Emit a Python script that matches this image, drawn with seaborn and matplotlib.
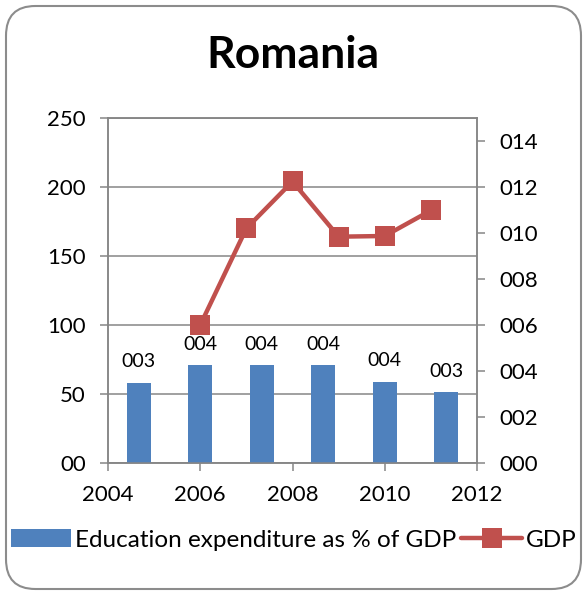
import numpy as np
import matplotlib
matplotlib.use("Agg")
import matplotlib.pyplot as plt
import seaborn as sns
from matplotlib.patches import FancyBboxPatch
from matplotlib.ticker import FormatStrFormatter

# bar series (right axis), placed where the chart software put them
bar_pos = [2004.667, 2006.0, 2007.333, 2008.667, 2010.0, 2011.333]
edu_pct = [3.49, 4.24, 4.24, 4.24, 3.53, 3.08]

# line series (left axis)
gdp_years = [2006, 2007, 2008, 2009, 2010, 2011]
gdp_vals = [100, 170, 204, 164, 164.5, 183]

x_ticks = [2004, 2006, 2008, 2010, 2012]
left_ticks = [0, 50, 100, 150, 200, 250]
right_ticks = [0, 2, 4, 6, 8, 10, 12, 14]

BLUE = "#4F81BD"
RED = "#C0504D"
GRID = "#868686"

sns.set_style("white")
plt.rcParams["font.family"] = ["Lato", "DejaVu Sans"]
plt.rcParams["text.color"] = "black"
plt.rcParams["xtick.labelcolor"] = "black"
plt.rcParams["ytick.labelcolor"] = "black"

fig = plt.figure(figsize=(5.87, 5.95), dpi=100)
ax = fig.add_axes([108 / 587, 1 - 463 / 595, (477 - 108) / 587, (463 - 118) / 595])

# outer rounded frame
frame = FancyBboxPatch((6 / 587, 6 / 595), 575 / 587, 583 / 595,
                       boxstyle="round,pad=0,rounding_size=0.05",
                       transform=fig.transFigure, facecolor="none",
                       edgecolor="#8c8c8c", linewidth=1.5, zorder=0)
fig.patches.append(frame)

ax.set_ylim(0, 250)
ax.set_xlim(2004, 2012)
ax.set_yticks(left_ticks)
ax.set_xticks(x_ticks)
ax.yaxis.set_major_formatter(FormatStrFormatter("%02d"))
ax.grid(axis="y", color=GRID, linewidth=1.1)
ax.grid(axis="x", visible=False)
ax.set_axisbelow(True)

sns.lineplot(x=gdp_years, y=gdp_vals, ax=ax, color=RED, marker="s",
             markersize=14, markeredgewidth=0, linewidth=3.2, label="GDP",
             legend=False)

ax2 = ax.twinx()
sns.barplot(x=bar_pos, y=edu_pct, ax=ax2, native_scale=True, color=BLUE,
            width=0.39, linewidth=0, saturation=1,
            label="Education expenditure as % of GDP")
if ax2.get_legend() is not None:
    ax2.get_legend().remove()
ax2.set_ylim(0, 15)
ax2.set_xlim(2004, 2012)
ax2.set_yticks(right_ticks)
ax2.yaxis.set_major_formatter(FormatStrFormatter("%03d"))
ax2.grid(False)
ax2.bar_label(ax2.containers[0], labels=[f"{v:03.0f}" for v in edu_pct],
              padding=9, fontsize=14, color="black")

for a in (ax, ax2):
    a.set_xlabel("")
    a.set_ylabel("")
    for s in a.spines.values():
        s.set_color(GRID)
        s.set_linewidth(1.1)
    a.tick_params(length=6, width=1.1, color=GRID, labelsize=16, pad=10,
                  labelcolor="black")
ax.tick_params(axis="y", left=True, right=False)
ax.tick_params(axis="x", bottom=True)
ax2.tick_params(axis="y", right=True, left=False)

ax.set_title("Romania", fontsize=32, fontweight="bold", pad=36, color="black")

h1, l1 = ax2.get_legend_handles_labels()
h2, l2 = ax.get_legend_handles_labels()
fig.legend(h1 + h2, l1 + l2, loc="center", bbox_to_anchor=(0.5, 1 - 540 / 595),
           ncol=2, frameon=False, fontsize=17.5, handlelength=2.5,
           handletextpad=0.15, columnspacing=0.2)

fig.savefig("out.png", dpi=100)
